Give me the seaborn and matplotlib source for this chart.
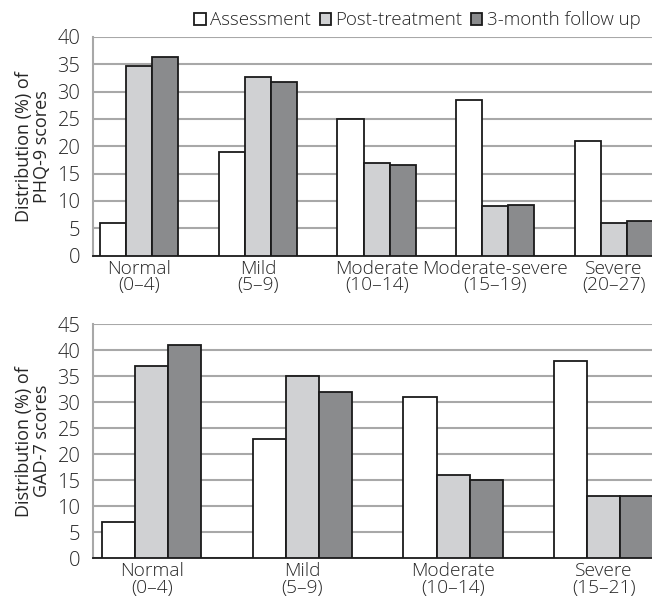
import seaborn as sns
import matplotlib.pyplot as plt, numpy as np, pandas as pd

phases = ['Assessment', 'Post-treatment', '3-month follow up']
colors = ['#ffffff', '#d0d1d3', '#8a8b8d']

phq_cats = ['Normal\n(0–4)', 'Mild\n(5–9)', 'Moderate\n(10–14)', 'Moderate-severe\n(15–19)', 'Severe\n(20–27)']
phq_assess = [6, 19, 25, 28.5, 21]
phq_post = [34.7, 32.7, 17, 9, 6]
phq_follow = [36.3, 31.7, 16.5, 9.3, 6.3]

gad_cats = ['Normal\n(0–4)', 'Mild\n(5–9)', 'Moderate\n(10–14)', 'Severe\n(15–21)']
gad_assess = [7, 23, 31, 38]
gad_post = [37, 35, 16, 12]
gad_follow = [41, 32, 15, 12]

def longdf(cats, *series):
    rows = []
    for ph, vals in zip(phases, series):
        for c, v in zip(cats, vals):
            rows.append({'cat': c, 'phase': ph, 'val': v})
    return pd.DataFrame(rows)

sns.set_style('white')
plt.rcParams['font.family'] = ['Open Sans', 'DejaVu Sans']
plt.rcParams['font.weight'] = 'light'
plt.rcParams['font.size'] = 11

fig = plt.figure(figsize=(6.52, 6.0), dpi=100)
ax1 = fig.add_axes([0.1426, 0.574, 0.8574, 0.3645])
ax2 = fig.add_axes([0.1426, 0.0695, 0.8574, 0.39])

panels = [
    (ax1, longdf(phq_cats, phq_assess, phq_post, phq_follow), phq_cats, 40, 'Distribution (%) of\nPHQ-9 scores'),
    (ax2, longdf(gad_cats, gad_assess, gad_post, gad_follow), gad_cats, 45, 'Distribution (%) of\nGAD-7 scores'),
]

for ax, df, cats, ymax, lab in panels:
    sns.barplot(data=df, x='cat', y='val', hue='phase', order=cats, hue_order=phases,
                palette=colors, edgecolor='#1a1a1a', linewidth=1.3, width=0.66,
                ax=ax, zorder=3)
    ax.set_ylim(0, ymax)
    ax.set_xlim(-0.39, len(cats) - 1 + 0.32)
    ax.set_yticks(np.arange(0, ymax + 1, 5))
    ax.yaxis.grid(True, color='#a8a8a8', linewidth=1.5, zorder=0)
    ax.set_axisbelow(True)
    for s in ['top', 'right']:
        ax.spines[s].set_visible(False)
    ax.spines['left'].set_color('#a8a8a8')
    ax.spines['left'].set_linewidth(1.5)
    ax.spines['bottom'].set_color('#1a1a1a')
    ax.spines['bottom'].set_linewidth(1.3)
    ax.tick_params(axis='y', length=8, width=1, color='#333333', labelsize=14.5, pad=1)
    ax.tick_params(axis='x', length=0, labelsize=13.8, pad=3)
    for t in ax.get_xticklabels():
        t.set_linespacing(0.9)
    ax.set_xlabel('')
    ax.set_ylabel(lab, fontsize=13, linespacing=0.95, labelpad=5)
    ax.get_legend().remove()

handles, labels = ax1.get_legend_handles_labels()
fig.legend(handles, labels, loc='upper right', bbox_to_anchor=(1.0, 1.0), ncol=3,
           frameon=False, fontsize=13.5, handlelength=0.6, handleheight=0.6,
           handletextpad=0.25, columnspacing=0.45, borderaxespad=0.2)

plt.savefig('out.png', dpi=100)
plt.close()
